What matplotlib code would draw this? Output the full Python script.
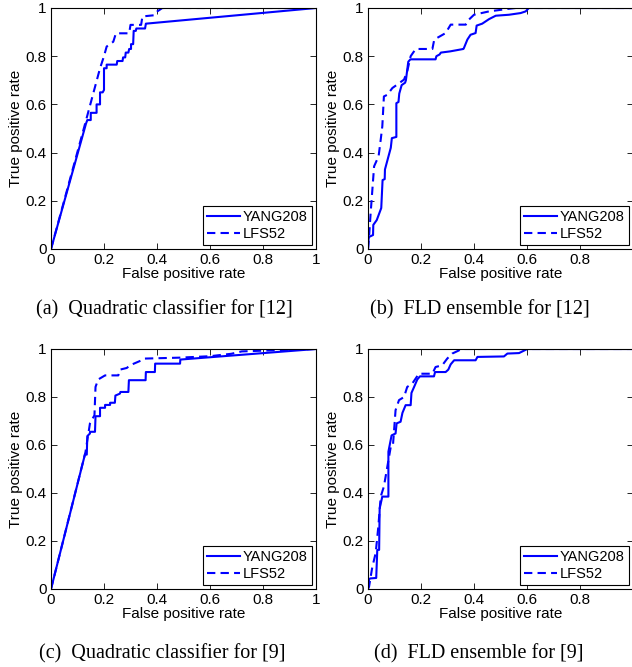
import matplotlib.pyplot as plt

plt.rcParams['font.family'] = ['Liberation Sans', 'DejaVu Sans']

# (a) quadratic classifier for [12]
a_yang_fpr = [0, 0.132, 0.137, 0.15, 0.15, 0.172, 0.172, 0.185, 0.185, 0.195, 0.2, 0.2, 0.21, 0.21,
              0.248, 0.25, 0.27, 0.272, 0.28, 0.282, 0.292, 0.295, 0.302, 0.302, 0.31, 0.312, 0.32,
              0.322, 0.355, 0.358, 1.0]
a_yang_tpr = [0, 0.52, 0.535, 0.535, 0.565, 0.565, 0.60, 0.60, 0.65, 0.65, 0.66, 0.75, 0.75, 0.765,
              0.765, 0.78, 0.78, 0.795, 0.795, 0.815, 0.815, 0.83, 0.83, 0.85, 0.85, 0.905, 0.905,
              0.915, 0.915, 0.935, 1.0]
a_lfs_fpr = [0, 0.13, 0.185, 0.2, 0.21, 0.235, 0.245, 0.295, 0.3, 0.34, 0.345, 0.39, 0.4, 0.42, 1.0]
a_lfs_tpr = [0, 0.525, 0.75, 0.80, 0.84, 0.86, 0.895, 0.895, 0.93, 0.93, 0.965, 0.97, 0.985, 1.0, 1.0]

# (b) FLD ensemble for [12]
b_yang_fpr = [0, 0.002, 0.004, 0.019, 0.02, 0.033, 0.05, 0.055, 0.063, 0.064, 0.086, 0.09, 0.107,
              0.107, 0.115, 0.118, 0.127, 0.14, 0.143, 0.152, 0.16, 0.255, 0.258, 0.27, 0.275,
              0.31, 0.36, 0.362, 0.375, 0.387, 0.406, 0.41, 0.431, 0.457, 0.482, 0.532, 0.576,
              0.595, 0.607, 1.0]
b_yang_tpr = [0, 0.04, 0.05, 0.058, 0.10, 0.12, 0.17, 0.286, 0.29, 0.33, 0.42, 0.46, 0.465,
              0.605, 0.61, 0.645, 0.68, 0.69, 0.70, 0.777, 0.787, 0.787, 0.80, 0.807, 0.815,
              0.82, 0.83, 0.834, 0.869, 0.889, 0.896, 0.927, 0.935, 0.954, 0.968, 0.972, 0.979,
              0.986, 1.0, 1.0]
b_lfs_fpr = [0, 0.004, 0.01, 0.023, 0.04, 0.048, 0.054, 0.06, 0.073, 0.092, 0.11, 0.136, 0.148,
             0.161, 0.18, 0.243, 0.25, 0.293, 0.312, 0.369, 0.381, 0.40, 0.457, 0.526, 0.557, 1.0]
b_lfs_tpr = [0, 0.05, 0.15, 0.343, 0.385, 0.454, 0.509, 0.633, 0.64, 0.668, 0.682, 0.703, 0.737,
             0.80, 0.83, 0.83, 0.869, 0.896, 0.931, 0.931, 0.952, 0.972, 0.986, 0.996, 1.0, 1.0]

# (c) quadratic classifier for [9]
c_yang_fpr = [0, 0.128, 0.135, 0.137, 0.147, 0.147, 0.166, 0.168, 0.185, 0.185, 0.204, 0.204,
              0.223, 0.223, 0.241, 0.243, 0.26, 0.262, 0.292, 0.294, 0.357, 0.358, 0.392, 0.393,
              0.487, 0.488, 1.0]
c_yang_tpr = [0, 0.56, 0.56, 0.637, 0.648, 0.655, 0.655, 0.72, 0.72, 0.755, 0.755, 0.767, 0.767,
              0.776, 0.776, 0.806, 0.814, 0.821, 0.821, 0.87, 0.87, 0.904, 0.904, 0.939, 0.939,
              0.956, 1.0]
c_lfs_fpr = [0, 0.13, 0.147, 0.164, 0.168, 0.178, 0.204, 0.254, 0.26, 0.286, 0.298, 0.342, 0.35,
             0.487, 0.6, 0.68, 0.72, 0.85, 1.0]
c_lfs_tpr = [0, 0.57, 0.69, 0.724, 0.842, 0.873, 0.89, 0.89, 0.914, 0.921, 0.932, 0.953, 0.96,
             0.964, 0.97, 0.98, 0.99, 0.995, 1.0]

# (d) FLD ensemble for [9]
d_yang_fpr = [0, 0.004, 0.008, 0.031, 0.035, 0.042, 0.044, 0.054, 0.077, 0.077, 0.089, 0.104,
              0.108, 0.123, 0.13, 0.142, 0.161, 0.164, 0.174, 0.186, 0.196, 0.249, 0.253, 0.293,
              0.303, 0.312, 0.325, 0.406, 0.413, 0.513, 0.526, 0.57, 0.601, 1.0]
d_yang_tpr = [0, 0.04, 0.044, 0.046, 0.163, 0.163, 0.336, 0.385, 0.385, 0.572, 0.64, 0.648, 0.69,
              0.697, 0.734, 0.766, 0.766, 0.817, 0.842, 0.873, 0.886, 0.886, 0.904, 0.904, 0.914,
              0.936, 0.953, 0.953, 0.967, 0.969, 0.981, 0.983, 1.0, 1.0]
d_lfs_fpr = [0, 0.004, 0.016, 0.029, 0.039, 0.048, 0.06, 0.073, 0.086, 0.094, 0.104, 0.117,
             0.136, 0.148, 0.167, 0.192, 0.243, 0.255, 0.28, 0.299, 0.318, 0.343, 0.35, 1.0]
d_lfs_tpr = [0, 0.01, 0.09, 0.15, 0.26, 0.385, 0.427, 0.51, 0.593, 0.596, 0.745, 0.787, 0.80,
             0.842, 0.856, 0.897, 0.897, 0.925, 0.932, 0.96, 0.981, 0.994, 1.0, 1.0]

panels = [
    ("(a)  Quadratic classifier for [12]", a_yang_fpr, a_yang_tpr, a_lfs_fpr, a_lfs_tpr),
    ("(b)  FLD ensemble for [12]", b_yang_fpr, b_yang_tpr, b_lfs_fpr, b_lfs_tpr),
    ("(c)  Quadratic classifier for [9]", c_yang_fpr, c_yang_tpr, c_lfs_fpr, c_lfs_tpr),
    ("(d)  FLD ensemble for [9]", d_yang_fpr, d_yang_tpr, d_lfs_fpr, d_lfs_tpr),
]
ticks = [0, 0.2, 0.4, 0.6, 0.8, 1]
tick_labels = ["0", "0.2", "0.4", "0.6", "0.8", "1"]

W, H = 632, 667
fig = plt.figure(figsize=(W / 100, H / 100), dpi=100)

# axes boxes in pixels: left, top, width, height (right column runs off the page)
boxes = [(51, 8, 265, 241), (368, 8, 265, 241), (51, 349, 265, 240), (368, 349, 265, 240)]
captions_xy = [(164, 310), (480, 310), (162, 654), (479, 654)]

for i, ((cap, yf, yt, lf, lt), (l, t, w, h), (cx, cy)) in enumerate(zip(panels, boxes, captions_xy)):
    ax = fig.add_axes([l / W, 1 - (t + h) / H, w / W, h / H])
    ax.plot(yf, yt, color='#0000ff', lw=1.5, label='YANG208')
    ax.plot(lf, lt, color='#0000ff', lw=1.5, ls=(0, (4, 2.5)), label='LFS52')
    ax.set_xlim(0, 1)
    ax.set_ylim(0, 1)
    ax.set_xticks(ticks)
    xl = list(tick_labels)
    if i % 2 == 1:
        xl[-1] = ""  # clipped by the page edge in the original
    ax.set_xticklabels(xl)
    ax.set_yticks(ticks)
    ax.set_yticklabels(tick_labels)
    ax.tick_params(direction='in', top=True, right=True, length=4, width=0.6,
                   labelsize=11, pad=3)
    for s in ax.spines.values():
        s.set_linewidth(0.8)
    ax.set_xlabel("False positive rate", fontsize=11, labelpad=0)
    ax.set_ylabel("True positive rate", fontsize=11, labelpad=2)
    leg = ax.legend(loc='lower right', fontsize=10.5, frameon=True, fancybox=False,
                    edgecolor='black', framealpha=1, borderaxespad=0.3,
                    handlelength=2.3, handletextpad=0.2, borderpad=0.25, labelspacing=0.2)
    leg.get_frame().set_linewidth(0.8)
    fig.text(cx / W, 1 - cy / H, cap, ha='center', va='center',
             family=['Liberation Serif', 'DejaVu Serif'], fontsize=14.5)

fig.savefig("out.png", dpi=100)
